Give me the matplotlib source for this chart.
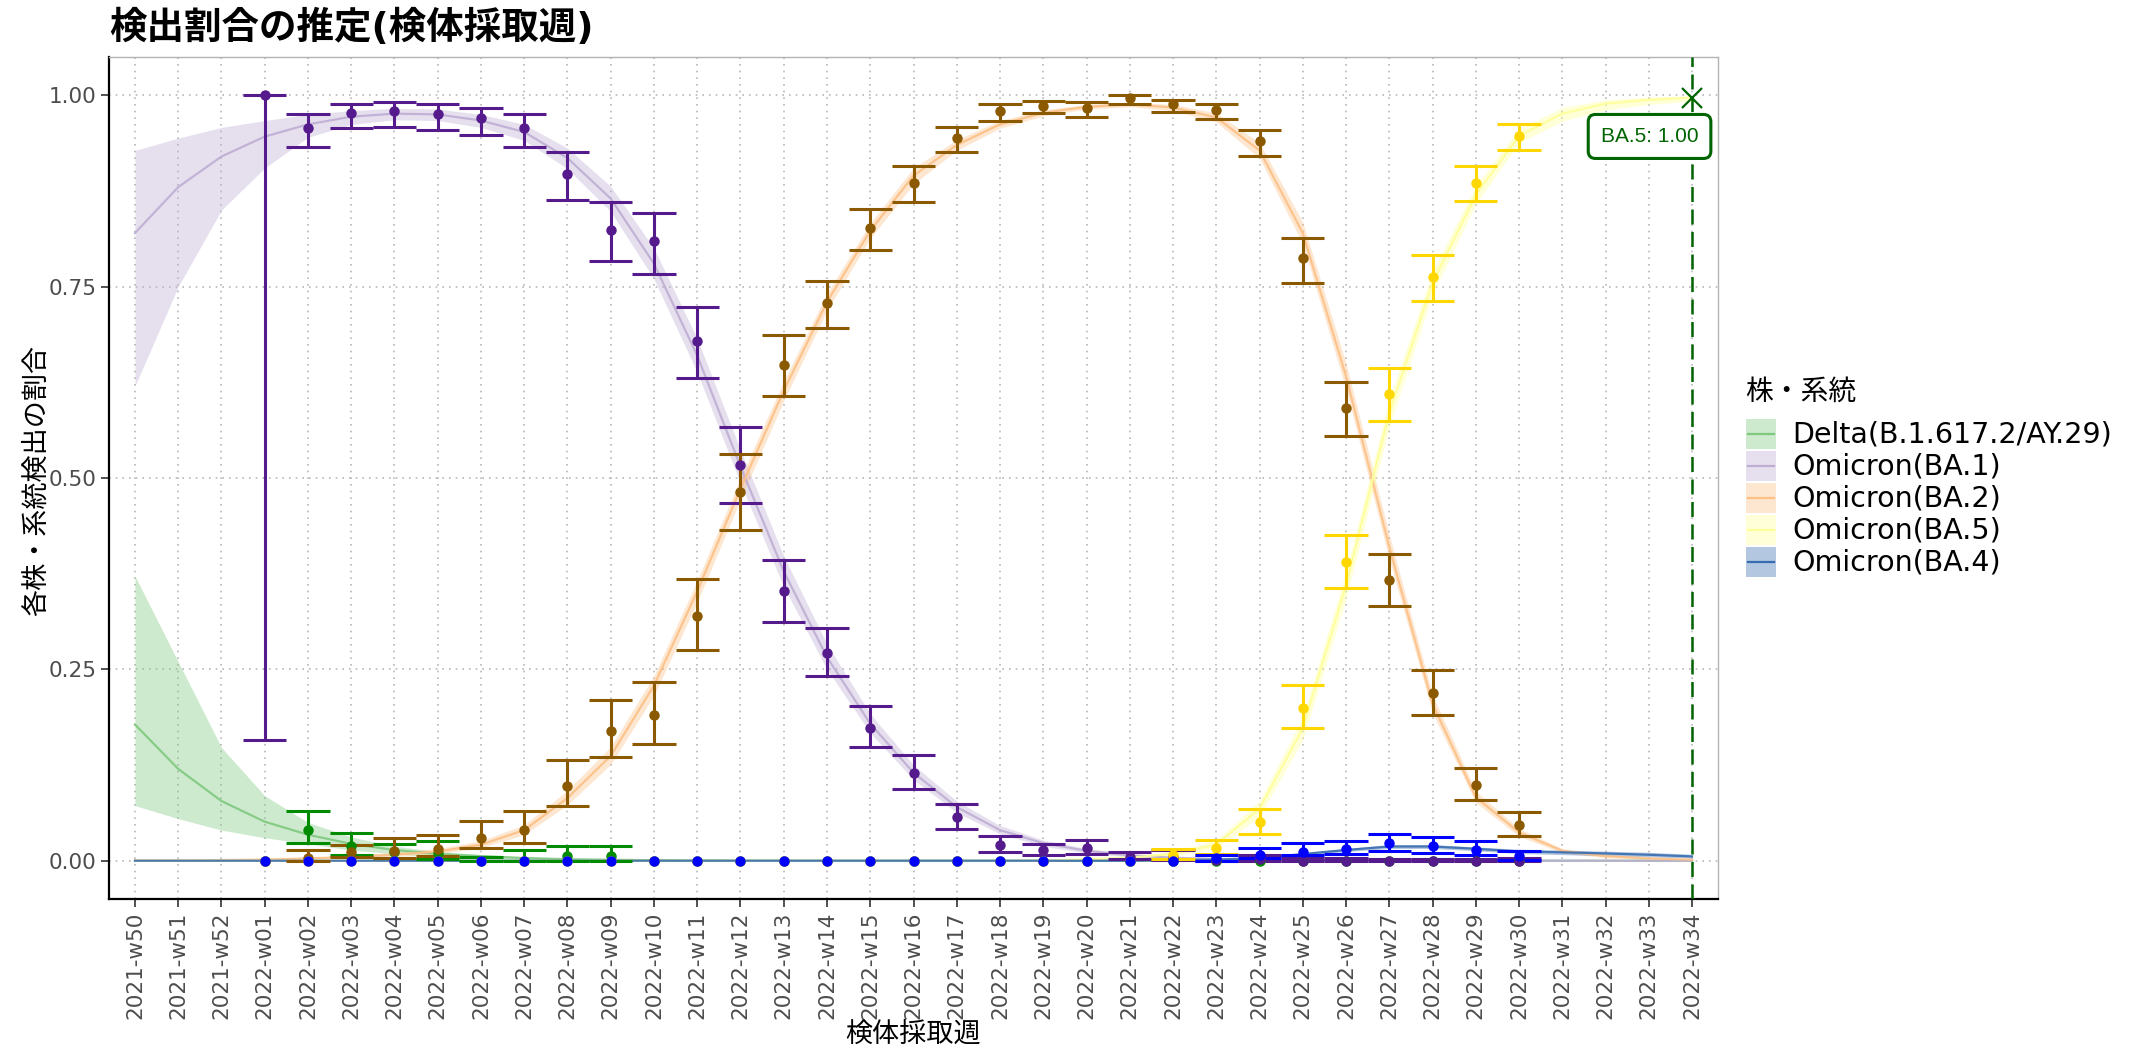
import numpy as np
import matplotlib.pyplot as plt
from matplotlib.patches import Rectangle
from matplotlib.lines import Line2D

plt.rcParams['font.family'] = ['DejaVu Sans', 'Noto Sans CJK JP']

# ---- categories ----
weeks = ['2021-w50', '2021-w51', '2021-w52',
         '2022-w01', '2022-w02', '2022-w03', '2022-w04', '2022-w05', '2022-w06',
         '2022-w07', '2022-w08', '2022-w09', '2022-w10', '2022-w11', '2022-w12',
         '2022-w13', '2022-w14', '2022-w15', '2022-w16', '2022-w17', '2022-w18',
         '2022-w19', '2022-w20', '2022-w21', '2022-w22', '2022-w23', '2022-w24',
         '2022-w25', '2022-w26', '2022-w27', '2022-w28', '2022-w29', '2022-w30',
         '2022-w31', '2022-w32', '2022-w33', '2022-w34']
obs_weeks = weeks[3:33]   # 2022-w01 .. 2022-w30

lineages = ['Delta(B.1.617.2/AY.29)', 'Omicron(BA.1)', 'Omicron(BA.2)',
            'Omicron(BA.5)', 'Omicron(BA.4)']
fit_colors = ['#7FC97F', '#BEAED4', '#FDC086', '#FFFF99', '#386CB0']
obs_colors = ['#008B00', '#551A8B', '#8B5A00', '#FFD700', '#0000FF']

# ---- fitted proportions (line) and band ----
fit_delta = [0.178, 0.120, 0.078, 0.051, 0.034, 0.022, 0.014, 0.009, 0.006, 0.0035,
             0.002, 0.0012, 0.0007, 0.0004, 0.0002, 0.0001] + [0] * 21
lo_delta = [0.072, 0.055, 0.040, 0.030, 0.022, 0.014, 0.009, 0.005, 0.003, 0.0015,
            0.0008, 0.0004, 0.0002, 0.0001, 0, 0] + [0] * 21
hi_delta = [0.372, 0.260, 0.148, 0.085, 0.050, 0.031, 0.019, 0.012, 0.008, 0.005,
            0.003, 0.002, 0.0012, 0.0007, 0.0004, 0.0002] + [0] * 21

fit_ba1 = [0.820, 0.880, 0.920, 0.946, 0.962, 0.972, 0.976, 0.975, 0.967, 0.952,
           0.918, 0.865, 0.780, 0.660, 0.515, 0.378, 0.266, 0.179, 0.115, 0.070,
           0.040, 0.023, 0.013, 0.007, 0.004, 0.002, 0.001, 0.0005] + [0] * 9
lo_ba1 = [0.620, 0.750, 0.850, 0.905, 0.945, 0.962, 0.968, 0.967, 0.958, 0.941,
          0.904, 0.848, 0.760, 0.638, 0.493, 0.358, 0.250, 0.167, 0.106, 0.063,
          0.035, 0.019, 0.010, 0.005, 0.003, 0.001, 0.0005, 0.0002] + [0] * 9
hi_ba1 = [0.928, 0.944, 0.958, 0.967, 0.975, 0.980, 0.983, 0.982, 0.975, 0.962,
          0.931, 0.881, 0.800, 0.682, 0.537, 0.398, 0.283, 0.192, 0.125, 0.078,
          0.046, 0.027, 0.016, 0.009, 0.005, 0.003, 0.0015, 0.0008] + [0] * 9

fit_ba2 = [0.0003, 0.0005, 0.0008, 0.0015, 0.003, 0.005, 0.008, 0.012, 0.021, 0.040,
           0.082, 0.137, 0.229, 0.352, 0.486, 0.614, 0.730, 0.823, 0.895, 0.935,
           0.962, 0.977, 0.985, 0.988, 0.984, 0.971, 0.928, 0.820, 0.633, 0.410,
           0.205, 0.083, 0.037, 0.013, 0.006, 0.003, 0.0013]
lo_ba2 = [0.0001, 0.0002, 0.0004, 0.0008, 0.002, 0.0035, 0.006, 0.009, 0.017, 0.034,
          0.073, 0.126, 0.216, 0.338, 0.472, 0.601, 0.719, 0.813, 0.884, 0.928,
          0.957, 0.973, 0.982, 0.985, 0.980, 0.965, 0.918, 0.806, 0.616, 0.394,
          0.193, 0.076, 0.032, 0.010, 0.004, 0.002, 0.0008]
hi_ba2 = [0.0006, 0.001, 0.0015, 0.0025, 0.0045, 0.007, 0.011, 0.016, 0.026, 0.047,
          0.092, 0.149, 0.242, 0.366, 0.500, 0.627, 0.741, 0.833, 0.905, 0.942,
          0.967, 0.981, 0.988, 0.991, 0.988, 0.977, 0.938, 0.834, 0.650, 0.426,
          0.217, 0.091, 0.042, 0.016, 0.008, 0.004, 0.002]

fit_ba5 = [0] * 22 + [0.002, 0.004, 0.009, 0.021, 0.068, 0.173, 0.360, 0.585,
                      0.755, 0.870, 0.947, 0.976, 0.989, 0.994, 0.997]
lo_ba5 = [0] * 22 + [0.001, 0.002, 0.006, 0.016, 0.058, 0.158, 0.342, 0.567,
                     0.740, 0.858, 0.938, 0.966, 0.981, 0.988, 0.992]
hi_ba5 = [0] * 22 + [0.003, 0.006, 0.012, 0.027, 0.078, 0.188, 0.378, 0.603,
                     0.770, 0.882, 0.956, 0.984, 0.994, 0.998, 0.999]

fit_ba4 = [0] * 24 + [0.001, 0.0015, 0.0035, 0.0087, 0.014, 0.0186, 0.0186, 0.0156,
                      0.0121, 0.011, 0.0095, 0.0078, 0.0056]
lo_ba4 = [0] * 24 + [0.0005, 0.001, 0.0025, 0.007, 0.012, 0.016, 0.016, 0.013,
                     0.0095, 0.008, 0.0065, 0.005, 0.0035]
hi_ba4 = [0] * 24 + [0.0015, 0.002, 0.0045, 0.0105, 0.016, 0.021, 0.021, 0.018,
                     0.015, 0.014, 0.0125, 0.011, 0.0085]

# ---- observed proportions with 95% CI (2022-w01 .. w30) ----
obs_delta = [0, 0.040, 0.019, 0.012, 0.010, 0, 0, 0.006, 0.006] + [0] * 21
obs_lo_delta = [0, 0.023, 0.008, 0.003, 0.002, 0, 0, 0, 0] + [0] * 21
obs_hi_delta = [0, 0.065, 0.036, 0.022, 0.026, 0.005, 0.014, 0.019, 0.019] + [0] * 21

obs_ba1 = [1.000, 0.957, 0.977, 0.979, 0.975, 0.970, 0.957, 0.897, 0.824, 0.809,
           0.679, 0.517, 0.352, 0.272, 0.173, 0.114, 0.057, 0.021, 0.014, 0.016,
           0.005, 0.005, 0.001, 0.002, 0, 0, 0, 0, 0, 0]
obs_lo_ba1 = [0.158, 0.932, 0.957, 0.959, 0.954, 0.948, 0.932, 0.863, 0.784, 0.767,
              0.631, 0.467, 0.312, 0.241, 0.148, 0.094, 0.041, 0.012, 0.007, 0.009,
              0.002, 0.001, 0, 0, 0, 0, 0, 0, 0, 0]
obs_hi_ba1 = [1.000, 0.975, 0.989, 0.991, 0.988, 0.984, 0.975, 0.926, 0.860, 0.846,
              0.724, 0.567, 0.393, 0.304, 0.202, 0.138, 0.074, 0.032, 0.022, 0.027,
              0.011, 0.014, 0.008, 0.008, 0.004, 0.004, 0.002, 0.002, 0.002, 0.003]

obs_ba2 = [0, 0.004, 0.011, 0.013, 0.015, 0.030, 0.040, 0.097, 0.170, 0.190,
           0.320, 0.482, 0.648, 0.728, 0.826, 0.885, 0.944, 0.980, 0.986, 0.983,
           0.996, 0.988, 0.981, 0.940, 0.787, 0.591, 0.367, 0.219, 0.099, 0.047]
obs_lo_ba2 = [0, 0, 0.005, 0.004, 0.006, 0.016, 0.023, 0.071, 0.135, 0.153,
              0.275, 0.432, 0.607, 0.696, 0.798, 0.860, 0.926, 0.967, 0.977, 0.972,
              0.988, 0.978, 0.969, 0.921, 0.755, 0.555, 0.333, 0.190, 0.079, 0.032]
obs_hi_ba2 = [0, 0.014, 0.020, 0.030, 0.033, 0.052, 0.065, 0.131, 0.210, 0.233,
              0.368, 0.532, 0.687, 0.758, 0.852, 0.907, 0.958, 0.989, 0.993, 0.991,
              1.000, 0.994, 0.989, 0.955, 0.813, 0.625, 0.401, 0.249, 0.121, 0.064]

obs_ba5 = [0] * 21 + [0.008, 0.017, 0.050, 0.200, 0.390, 0.610, 0.762, 0.886, 0.947]
obs_lo_ba5 = [0] * 21 + [0.002, 0.009, 0.035, 0.173, 0.356, 0.575, 0.731, 0.862, 0.929]
obs_hi_ba5 = [0] * 21 + [0.015, 0.027, 0.068, 0.230, 0.425, 0.644, 0.791, 0.907, 0.962]

obs_ba4 = [0] * 22 + [0.003, 0.008, 0.012, 0.015, 0.023, 0.019, 0.014, 0.006]
obs_lo_ba4 = [0] * 22 + [0, 0.003, 0.008, 0.009, 0.013, 0.010, 0.008, 0.001]
obs_hi_ba4 = [0] * 22 + [0.008, 0.016, 0.023, 0.026, 0.035, 0.031, 0.026, 0.013]

fits = [(fit_delta, lo_delta, hi_delta), (fit_ba1, lo_ba1, hi_ba1),
        (fit_ba2, lo_ba2, hi_ba2), (fit_ba5, lo_ba5, hi_ba5),
        (fit_ba4, lo_ba4, hi_ba4)]
obs = [(obs_delta, obs_lo_delta, obs_hi_delta), (obs_ba1, obs_lo_ba1, obs_hi_ba1),
       (obs_ba2, obs_lo_ba2, obs_hi_ba2), (obs_ba5, obs_lo_ba5, obs_hi_ba5),
       (obs_ba4, obs_lo_ba4, obs_hi_ba4)]

# ---- figure ----
W, H = 2129, 1050
fig = plt.figure(figsize=(W / 100, H / 100), dpi=100)
ax = fig.add_axes([109 / W, 1 - 899 / H, (1718 - 109) / W, (899 - 57) / H])

x = np.arange(len(weeks))
xo = np.array([weeks.index(w) for w in obs_weeks])

for (f, lo, hi), c in zip(fits, fit_colors):
    ax.fill_between(x, lo, hi, color=c, alpha=0.38, lw=0, zorder=2)
for (f, lo, hi), c in zip(fits, fit_colors):
    ax.plot(x, f, color=c, lw=1.6, alpha=0.9, zorder=3)
for (o, lo, hi), c in zip(obs, obs_colors):
    lo, hi = np.array(lo), np.array(hi)
    keep = hi > 0          # empty weeks have no interval
    ax.vlines(xo[keep], lo[keep], hi[keep], color=c, lw=2.2, zorder=4)
    ax.hlines(lo[keep], xo[keep] - 0.5, xo[keep] + 0.5, color=c, lw=2.2, zorder=4)
    ax.hlines(hi[keep], xo[keep] - 0.5, xo[keep] + 0.5, color=c, lw=2.2, zorder=4)
for (o, lo, hi), c in zip(obs, obs_colors):
    ax.plot(xo, o, 'o', color=c, ms=7.5, mec='none', zorder=5)

# last week marker + label
last = len(weeks) - 1
ax.axvline(last, color='#006400', lw=1.8, ls=(0, (6, 3)), zorder=6)
ax.plot(last, fit_ba5[-1], marker='x', ms=15, mew=1.6, color='#006400', zorder=7)
ax.annotate('BA.5: %.2f' % fit_ba5[-1], (last, fit_ba5[-1]),
            xytext=(-30.6, -28), textcoords='offset points',
            ha='center', va='center', fontsize=15, color='#006400',
            family=['Liberation Sans', 'DejaVu Sans'], zorder=8,
            bbox=dict(boxstyle='round,pad=0.6,rounding_size=0.35',
                      fc='white', ec='#006400', lw=2.2))

ax.set_xlim(-0.6, len(weeks) - 0.4)
ax.set_ylim(-0.05, 1.05)
ax.set_xticks(x)
ax.set_xticklabels(weeks, rotation=90)
ax.set_yticks([0, 0.25, 0.5, 0.75, 1.0])
ax.set_yticklabels(['0.00', '0.25', '0.50', '0.75', '1.00'])
ax.tick_params(length=6, width=1.2, color='#333333', labelcolor='#4d4d4d',
               labelsize=15.5, pad=3)
ax.grid(True, color='#b8b8b8', lw=1.2, ls=(0, (1, 3)))
ax.set_axisbelow(True)
for s in ['top', 'right']:
    ax.spines[s].set_color('#b3b3b3')
    ax.spines[s].set_linewidth(1.0)
for s in ['left', 'bottom']:
    ax.spines[s].set_color('black')
    ax.spines[s].set_linewidth(1.6)

fig.text(109 / W, 1 - 28 / H, '検出割合の推定(検体採取週)', fontsize=27,
         fontweight='bold', ha='left', va='center')
fig.text(913 / W, 1 - 1035 / H, '検体採取週', fontsize=19.5, ha='center', va='center')
fig.text(37 / W, 1 - 480 / H, '各株・系統検出の割合', fontsize=19.5, rotation=90,
         ha='center', va='center')

# ---- legend ----
fig.text(1745 / W, 1 - 392 / H, '株・系統', fontsize=20, ha='left', va='center')
for i, (lab, fc, lc) in enumerate(zip(lineages, fit_colors, fit_colors)):
    cy = 434 + 32 * i
    fig.add_artist(Rectangle((1746 / W, 1 - (cy + 15) / H), 30 / W, 30 / H,
                             transform=fig.transFigure, fc=fc, alpha=0.38, lw=0))
    fig.add_artist(Line2D([1748 / W, 1774 / W], [1 - cy / H, 1 - cy / H],
                          transform=fig.transFigure, color=lc, lw=1.6))
    fig.text(1792 / W, 1 - cy / H, lab, fontsize=20.5, ha='left', va='center')

fig.savefig('out.png', dpi=100)
